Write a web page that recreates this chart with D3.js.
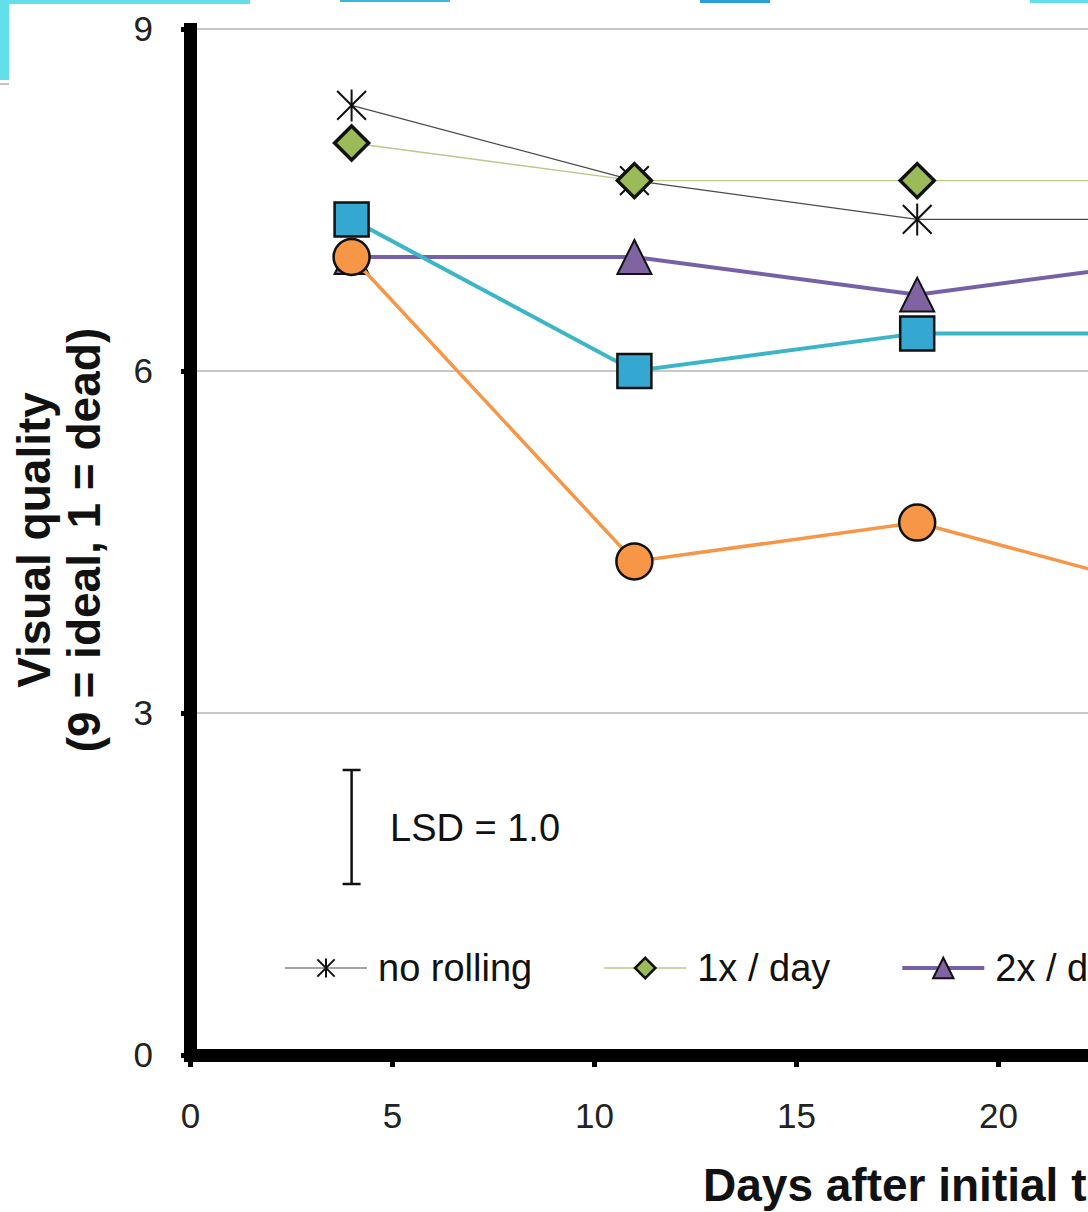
<!DOCTYPE html>
<html>
<head>
<meta charset="utf-8">
<script src="https://cdn.jsdelivr.net/npm/d3@7"></script>
<style>
  html, body { margin: 0; padding: 0; background: #fff; }
  svg { display: block; font-family: "Liberation Sans", Arial, sans-serif; }
</style>
</head>
<body>
<svg id="chart" width="1088" height="1212"></svg>
<script>
// data
const days = [4, 11, 18, 25];
const noRolling = [8.33, 7.67, 7.33, 7.33];
const oneXDay = [8.0, 7.67, 7.67, 7.67];
const twoXDay = [7.0, 7.0, 6.67, 7.0];
const threeXDay = [7.33, 6.0, 6.33, 6.33];
const fourXDay = [7.0, 4.33, 4.67, 4.0];
const seriesNames = ["no rolling", "1x / day", "2x / day", "3x / day", "4x / day"];
const xTicks = [0, 5, 10, 15, 20];
const yTicks = [0, 3, 6, 9];
const lsd = 1.0;

const svg = d3.select("#chart");
const W = 1088, H = 1212;

const x = d3.scaleLinear().domain([0, 30]).range([190, 190 + 40.4 * 30]);
const y = d3.scaleLinear().domain([0, 9]).range([1055, 29]);

// slide decoration at the top-left
const deco = svg.append("g");
deco.append("rect").attr("x", 0).attr("y", 0).attr("width", 9).attr("height", 80).attr("fill", "#62dfea");
deco.append("line").attr("x1", 0).attr("x2", 9).attr("y1", 84).attr("y2", 84).attr("stroke", "#888").attr("stroke-width", 1);
deco.append("rect").attr("x", 0).attr("y", 0).attr("width", 250).attr("height", 4).attr("fill", "#62dfea");
deco.append("rect").attr("x", 340).attr("y", 0).attr("width", 110).attr("height", 2).attr("fill", "#3ab8dc");
deco.append("rect").attr("x", 700).attr("y", 0).attr("width", 70).attr("height", 3).attr("fill", "#2a9ed8");
deco.append("rect").attr("x", 1030).attr("y", 0).attr("width", 58).attr("height", 3).attr("fill", "#62dfea");

// gridlines
svg.append("g")
  .selectAll("line")
  .data(yTicks.filter(d => d > 0))
  .join("line")
  .attr("x1", x(0)).attr("x2", W)
  .attr("y1", d => y(d)).attr("y2", d => y(d))
  .attr("stroke", "#c8c8c8").attr("stroke-width", 2);

// axes
const yAxis = svg.append("g")
  .attr("transform", `translate(${x(0)},0)`)
  .call(d3.axisLeft(y).tickValues(yTicks).tickSize(9).tickSizeOuter(0).tickPadding(28));
const xAxis = svg.append("g")
  .attr("transform", `translate(0,${y(0)})`)
  .call(d3.axisBottom(x).tickValues(xTicks).tickSize(12).tickSizeOuter(0).tickPadding(36));

[yAxis, xAxis].forEach(a => {
  a.select(".domain").attr("stroke", "#000").attr("stroke-width", 13).attr("stroke-linecap", "square");
  a.selectAll(".tick line").attr("stroke", "#000").attr("stroke-width", 5);
  a.selectAll(".tick text")
    .attr("fill", "#222")
    .attr("font-size", 35)
    .attr("font-family", "Liberation Sans, Arial, sans-serif");
});

// axis titles
const yTitle = svg.append("text")
  .attr("transform", `translate(50,540) rotate(-90)`)
  .attr("text-anchor", "middle")
  .attr("font-weight", "bold").attr("font-size", 46).attr("fill", "#111");
yTitle.append("tspan").attr("x", 0).attr("dy", 0).text("Visual quality");
yTitle.append("tspan").attr("x", 0).attr("dy", 50).text("(9 = ideal, 1 = dead)");

svg.append("text")
  .attr("x", 703).attr("y", 1201)
  .attr("font-weight", "bold").attr("font-size", 46).attr("fill", "#111")
  .text("Days after initial treatment");

// marker shapes
function asterisk(r) {
  const d = r * 0.9;
  return `M0,${-r}V${r}M${-d},${-d}L${d},${d}M${-d},${d}L${d},${-d}`;
}
function diamond(r) { return `M0,${-r}L${r},0L0,${r}L${-r},0Z`; }
function square(r) { return `M${-r},${-r}H${r}V${r}H${-r}Z`; }
function triangle(r) { return `M0,${-r}L${r},${r}H${-r}Z`; }
function circle(r) { return `M${r},0A${r},${r} 0 1 1 ${-r},0A${r},${r} 0 1 1 ${r},0Z`; }

const series = [
  { name: seriesNames[0], values: noRolling, line: "#4a4a4a", lw: 1.2, shape: asterisk, size: 16, fill: "none", stroke: "#111", sw: 2 },
  { name: seriesNames[1], values: oneXDay, line: "#b9c98e", lw: 1.4, shape: diamond, size: 17, fill: "#9bbb59", stroke: "#111", sw: 3.5 },
  { name: seriesNames[2], values: twoXDay, line: "#7661a8", lw: 4, shape: triangle, size: 17, fill: "#8064a2", stroke: "#111", sw: 2 },
  { name: seriesNames[3], values: threeXDay, line: "#3cb6c6", lw: 4, shape: square, size: 17, fill: "#35a8d2", stroke: "#111", sw: 2.5 },
  { name: seriesNames[4], values: fourXDay, line: "#f79646", lw: 3.5, shape: circle, size: 18, fill: "#f79646", stroke: "#111", sw: 2.5 }
];

const line = d3.line().x(d => x(d[0])).y(d => y(d[1]));

series.forEach(s => {
  const pts = days.map((d, i) => [d, s.values[i]]);
  const g = svg.append("g");
  g.append("path")
    .attr("d", line(pts))
    .attr("fill", "none").attr("stroke", s.line).attr("stroke-width", s.lw);
  g.selectAll("path.mk")
    .data(pts)
    .join("path")
    .attr("class", "mk")
    .attr("transform", d => `translate(${x(d[0])},${y(d[1])})`)
    .attr("d", s.shape(s.size))
    .attr("fill", s.fill).attr("stroke", s.stroke).attr("stroke-width", s.sw)
    .attr("stroke-linejoin", "miter");
});

// LSD bar
const lsdG = svg.append("g").attr("stroke", "#111").attr("stroke-width", 2.5);
const lsdX = x(4), lsdTop = y(2.5), lsdBot = y(2.5 - lsd);
lsdG.append("line").attr("x1", lsdX).attr("x2", lsdX).attr("y1", lsdTop).attr("y2", lsdBot);
lsdG.append("line").attr("x1", lsdX - 9).attr("x2", lsdX + 9).attr("y1", lsdTop).attr("y2", lsdTop);
lsdG.append("line").attr("x1", lsdX - 9).attr("x2", lsdX + 9).attr("y1", lsdBot).attr("y2", lsdBot);
svg.append("text")
  .attr("x", 390).attr("y", (lsdTop + lsdBot) / 2 + 14)
  .attr("font-size", 38).attr("fill", "#111")
  .text("LSD = " + lsd.toFixed(1));

// legend (the items past the right edge are cropped, as in the original)
const legend = svg.append("g").attr("transform", "translate(285,968)");
let lx = 0;
series.forEach(s => {
  const item = legend.append("g").attr("transform", `translate(${lx},0)`);
  item.append("line").attr("x1", 0).attr("x2", 82).attr("y1", 0).attr("y2", 0)
    .attr("stroke", s.line).attr("stroke-width", s.lw);
  item.append("path").attr("transform", "translate(41,0)")
    .attr("d", s.shape(s.size * 0.6))
    .attr("fill", s.fill).attr("stroke", s.stroke).attr("stroke-width", Math.min(s.sw, 2.5));
  const t = item.append("text").attr("x", 93).attr("y", 13)
    .attr("font-size", 38).attr("fill", "#111").text(s.name);
  lx += 93 + t.node().getComputedTextLength() + 72;
});
</script>
</body>
</html>
